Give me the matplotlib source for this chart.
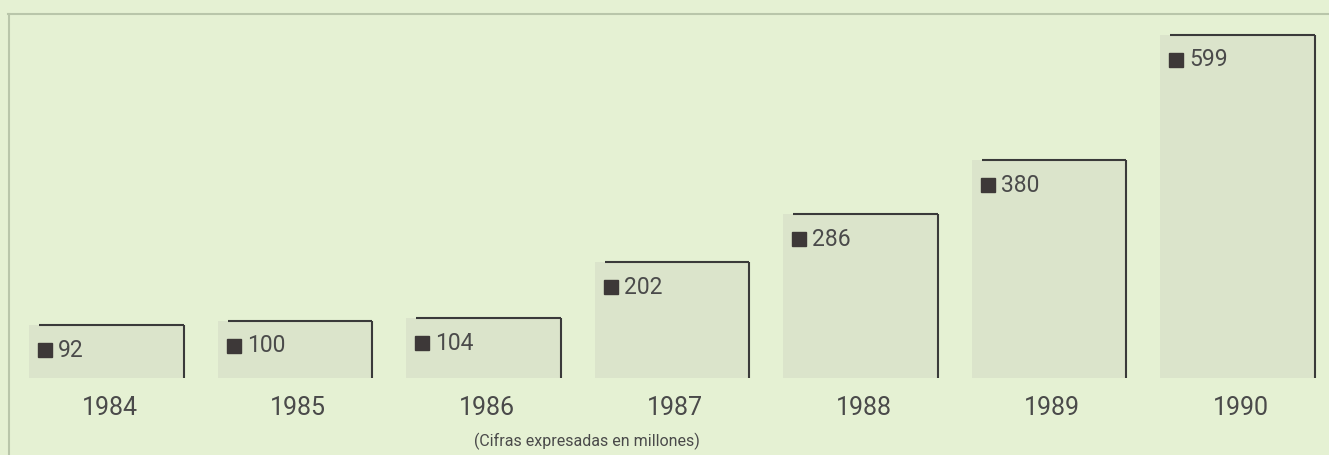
import matplotlib.pyplot as plt
from matplotlib.transforms import offset_copy
from matplotlib import font_manager

years = ['1984', '1985', '1986', '1987', '1988', '1989', '1990']
values = [92, 100, 104, 202, 286, 380, 599]
caption = '(Cifras expresadas en millones)'

# condensed face if available
nombres = {f.name for f in font_manager.fontManager.ttflist}
familia = 'Liberation Sans Narrow' if 'Liberation Sans Narrow' in nombres else 'Roboto'
plt.rcParams['font.family'] = [familia, 'DejaVu Sans']

fondo = '#e5f1d3'
relleno = '#dbe4cb'
tinta = '#3a3a3a'
texto = '#4a4a4a'

fig = plt.figure(figsize=(13.29, 4.55), dpi=100)
fig.patch.set_facecolor(fondo)
ax = fig.add_axes([0, 0, 1, 1])
ax.set_facecolor(fondo)
ax.set_xlim(-0.565, 6.485)
ax.set_ylim(-134.4, 659.7)
ax.axis('off')

ancho = 0.82
x = list(range(len(years)))
ax.bar(x, values, width=ancho, color=relleno, zorder=1)

for i, v in enumerate(values):
    izq = i - ancho / 2
    der = i + ancho / 2
    # borde superior (empieza un poco a la derecha) y borde derecho
    t_linea = offset_copy(ax.transData, fig=fig, x=10, y=0, units='dots')
    ax.plot([izq, der - 10 / 188.5], [v, v], color=tinta, lw=1.5,
            transform=t_linea, solid_capstyle='butt', zorder=2)
    ax.plot([der, der], [0, v], color=tinta, lw=1.5, solid_capstyle='butt', zorder=2)
    t_cuad = offset_copy(ax.transData, fig=fig, x=16, y=-25, units='dots')
    ax.plot(izq, v, marker='s', ms=9.5, color='#3d3838', transform=t_cuad, zorder=3)
    t_txt = offset_copy(ax.transData, fig=fig, x=29, y=-25, units='dots')
    ax.text(izq, v, str(v), transform=t_txt, ha='left', va='center',
            fontsize=16.5, color=texto, zorder=3)
    t_anio = offset_copy(ax.transData, fig=fig, x=3, y=-18, units='dots')
    ax.text(i, 0, years[i], transform=t_anio, ha='center', va='top',
            fontsize=18, color=texto)

fig.text(587 / 1329, 1 - 441 / 455, caption, ha='center', va='center',
         fontsize=11.5, color=texto)

# marco
marco = '#b9c6aa'
fig.add_artist(plt.Line2D([8 / 1329, 1], [1 - 14 / 455, 1 - 14 / 455],
                          transform=fig.transFigure, color=marco, lw=1.5))
fig.add_artist(plt.Line2D([9 / 1329, 9 / 1329], [0, 1 - 14 / 455],
                          transform=fig.transFigure, color=marco, lw=1.5))

fig.savefig('out.png', dpi=100, facecolor=fondo)
